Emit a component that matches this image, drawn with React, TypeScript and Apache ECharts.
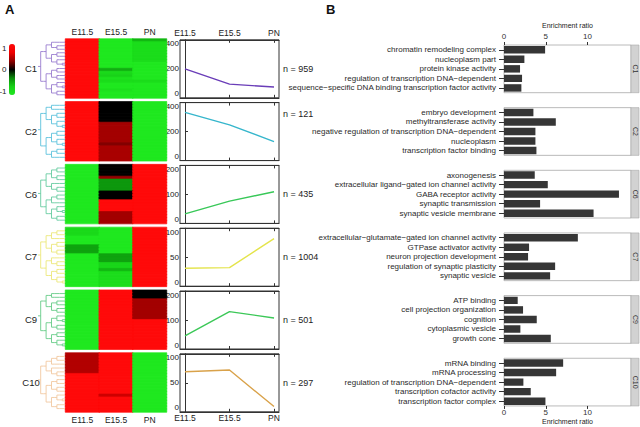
import React, { useEffect, useRef } from 'react';
import * as echarts from 'echarts';

// ---------------- data ----------------
const STAGES = ['E11.5', 'E15.5', 'PN'];
const CLUSTERS = ['C1', 'C2', 'C6', 'C7', 'C9', 'C10'];
const CLUSTER_SIZES = [959, 121, 435, 1004, 501, 297];
const COLORBAR_TICKS = [1, 0, -1];

// mean expression profiles (E11.5, E15.5, PN)
const PROFILE_C1 = [200, 94, 74];
const PROFILE_C2 = [333, 246, 131];
const PROFILE_C6 = [33, 77, 109];
const PROFILE_C7 = [31, 32, 82];
const PROFILE_C9 = [45, 129, 107];
const PROFILE_C10 = [69, 72, 9];
const PROFILE_MAX = [400, 400, 200, 100, 200, 100];

// heatmap rows: [E11.5, E15.5, PN] scaled expression
const HEAT_C1 = [
  [1, -1, -0.55], [1, -1, -0.85], [1, -1, -0.85], [1, -1, -0.85], [1, -1, -0.85],
  [1, -1, -0.85], [1, -1, -0.85], [1, -1, -0.85], [1, -1, -1], [1, -1, -1],
  [1, -0.5, -1], [1, -0.8, -1], [1, -0.7, -1], [1, -0.9, -1], [1, -0.85, -0.85],
  [1, -1, -1], [1, -1, -1], [1, -0.9, -1], [1, -1, -1], [1, -1, -1],
];
const HEAT_C2 = [
  [1, 0, -1], [1, 0, -1], [1, 0, -1], [1, 0, -1], [1, 0, -1],
  [1, 0, -1], [1, 0, -1], [1, 0.4, -1], [1, 0.4, -1], [1, 0.4, -1],
  [1, 0.4, -1], [1, 0.4, -1], [1, 0.4, -1], [1, 0.4, -1], [1, 0.3, -1],
  [1, 0.42, -1], [1, 0.42, -1], [1, 0.42, -1], [1, 0.42, -1], [1, 0.42, -1],
];
const HEAT_C6 = [
  [-1, 0, 1], [-1, 0, 1], [-1, 0, 1], [-1, 0, 1], [-1, 0.35, 1],
  [-1, -0.4, 1], [-1, -0.4, 1], [-1, -0.4, 1], [-1, -0.4, 1], [-1, 0, 1],
  [-1, 0, 1], [-1, 0, 1], [-1, 1, 1], [-1, 1, 1], [-1, 1, 1],
  [-1, 1, 1], [-1, 0.4, 1], [-1, 0.4, 1], [-1, 0.4, 1], [-1, 0.4, 1],
];
const HEAT_C7 = [
  [-0.8, -1, 1], [-0.8, -1, 1], [-0.8, -1, 1], [-1, -1, 1], [-1, -1, 1],
  [-1, -1, 1], [-0.45, -1, 1], [-0.45, -1, 1], [-0.45, -1, 1], [-1, -0.45, 1],
  [-1, -0.45, 1], [-1, -0.45, 1], [-1, -0.75, 1], [-1, -0.75, 1], [-1, -0.55, 1],
  [-1, -0.85, 1], [-1, -0.85, 1], [-1, -0.85, 1], [-1, -0.85, 1], [-1, -0.85, 1],
];
const HEAT_C9 = [
  [-1, 1, 0], [-1, 1, 0], [-1, 1, 0], [-1, 1, 0.4], [-1, 1, 0.4],
  [-1, 1, 0.4], [-1, 1, 0.4], [-1, 1, 0.4], [-1, 1, 0.4], [-1, 1, 0.4],
  [-1, 1, 1], [-1, 1, 1], [-1, 1, 1], [-1, 1, 1], [-1, 1, 1],
  [-1, 1, 1], [-1, 1, 1], [-1, 1, 1], [-1, 1, 1], [-1, 1, 1],
];
const HEAT_C10 = [
  [0.45, 1, -1], [0.45, 1, -1], [0.45, 1, -1], [0.45, 1, -1], [0.45, 1, -1],
  [0.45, 1, -1], [0.45, 1, -1], [1, 1, -1], [1, 1, -1], [1, 1, -1],
  [1, 1, -1], [1, 1, -1], [1, 1, -1], [1, 1, -1], [1, 0.55, -1],
  [1, 1, -1], [1, 1, -1], [1, 1, -1], [1, 1, -1], [1, 1, -1],
];

// dendrogram topologies (0 = leaf)
const DENDRO_C1 = [[[0, [0, 0]], [[0, 0], [0, [0, 0]]]], [[[0, 0], [0, 0]], [[0, [0, 0]], [0, 0]]]];
const DENDRO_C2 = [[[0, 0], [[0, 0], [0, [0, 0]]]], [[[0, 0], [0, [0, 0]]], [[0, 0], 0]]];
const DENDRO_C6 = [[[[0, 0], [0, 0]], [0, [0, 0]]], [[[0, 0], 0], [[0, [0, 0]], [0, 0]]]];
const DENDRO_C7 = [[[[0, 0], 0], [[0, 0], [0, 0]]], [[0, [0, 0]], [[0, 0], [0, [0, 0]]]]];
const DENDRO_C9 = [[[0, 0], [[0, 0], [0, 0]]], [[[0, [0, 0]], [0, 0]], [[0, 0], [0, [0, 0]]]]];
const DENDRO_C10 = [[[[0, 0], 0], [0, [0, 0]]], [[[0, 0], [0, 0]], [[0, [0, 0]], [0, 0]]]];

// GO enrichment
const TERMS_C1 = ['chromatin remodeling complex', 'nucleoplasm part', 'protein kinase activity', 'regulation of transcription DNA\u2212dependent', 'sequence\u2212specific DNA binding transcription factor activity'];
const RATIO_C1 = [4.92, 2.44, 1.92, 2.16, 2.08];
const TERMS_C2 = ['embryo development', 'methyltransferase activity', 'negative regulation of transcription DNA\u2212dependent', 'nucleoplasm', 'transcription factor binding'];
const RATIO_C2 = [3.52, 6.2, 3.76, 3.76, 3.88];
const TERMS_C6 = ['axonogenesis', 'extracellular ligand\u2212gated ion channel activity', 'GABA receptor activity', 'synaptic transmission', 'synaptic vesicle membrane'];
const RATIO_C6 = [3.68, 5.24, 13.76, 4.32, 10.72];
const TERMS_C7 = ['extracellular\u2212glutamate\u2212gated ion channel activity', 'GTPase activator activity', 'neuron projection development', 'regulation of synaptic plasticity', 'synaptic vesicle'];
const RATIO_C7 = [8.84, 3.0, 2.88, 6.12, 5.52];
const TERMS_C9 = ['ATP binding', 'cell projection organization', 'cognition', 'cytoplasmic vesicle', 'growth cone'];
const RATIO_C9 = [1.64, 2.28, 3.92, 1.96, 5.6];
const TERMS_C10 = ['mRNA binding', 'mRNA processing', 'regulation of transcription DNA\u2212dependent', 'transcription cofactor activity', 'transcription factor complex'];
const RATIO_C10 = [7.08, 6.24, 2.32, 3.2, 4.96];
const ENRICH_TICKS = [0, 5, 10];

// ---------------- styling ----------------
const FONT = 'Liberation Sans, Arial, Helvetica, sans-serif';
const HEAT_COLORS = ['#1fe81f', '#17d017', '#0a8a0a', '#000000', '#900000', '#f00000', '#ff0a0a'];
const LINE_COLORS = ['#6a3db8', '#36b6cc', '#38c858', '#e4e44c', '#3cc858', '#d9a24a'];
const DENDRO_COLORS = ['#9a7ed0', '#5cc2dc', '#66cca0', '#ece87a', '#66cc88', '#f2c8a0'];

const PROFILES = [PROFILE_C1, PROFILE_C2, PROFILE_C6, PROFILE_C7, PROFILE_C9, PROFILE_C10];
const HEATS = [HEAT_C1, HEAT_C2, HEAT_C6, HEAT_C7, HEAT_C9, HEAT_C10];
const DENDROS: any[] = [DENDRO_C1, DENDRO_C2, DENDRO_C6, DENDRO_C7, DENDRO_C9, DENDRO_C10];
const TERMS = [TERMS_C1, TERMS_C2, TERMS_C6, TERMS_C7, TERMS_C9, TERMS_C10];
const RATIOS = [RATIO_C1, RATIO_C2, RATIO_C6, RATIO_C7, RATIO_C9, RATIO_C10];

// layout
const ROW_TOP0 = 39;
const ROW_STEP = 62.8;
const HEAT_LEFT = 65.5;
const HEAT_W = 101;
const HEAT_H = 59;
const LINE_LEFT = 180;
const LINE_W = 99;
const LINE_H = 58;
const BAR_TOP0 = 45;
const BAR_STEP = 62.65;
const BAR_LEFT = 504;
const BAR_W = 127;
const BAR_H = 47.7;
const N_LABEL_DY = [29, 11, 28.5, 28.5, 28.5, 29];
const CBAR_TOP = 44;
const CBAR_H = 51;

function hexToRgb(h: string) {
  return [parseInt(h.slice(1, 3), 16), parseInt(h.slice(3, 5), 16), parseInt(h.slice(5, 7), 16)];
}
// same piecewise-linear mapping that the visualMap uses (for seam-hiding borders)
function colorFor(v: number) {
  const n = HEAT_COLORS.length - 1;
  const p = Math.max(0, Math.min(1, (v + 1) / 2)) * n;
  const k = Math.min(n - 1, Math.floor(p));
  const f = p - k;
  const a = hexToRgb(HEAT_COLORS[k]);
  const b = hexToRgb(HEAT_COLORS[k + 1]);
  const c = a.map((x, j) => Math.round(x + (b[j] - x) * f));
  return `rgb(${c[0]},${c[1]},${c[2]})`;
}

function depthOf(node: any): number {
  if (!Array.isArray(node)) return 0;
  return 1 + Math.max(...node.map(depthOf));
}
function buildTree(node: any, depth: number, maxDepth: number): any {
  if (Array.isArray(node)) {
    return { name: '', children: node.map((c) => buildTree(c, depth + 1, maxDepth)) };
  }
  if (depth < maxDepth) return { name: '', children: [buildTree(0, depth + 1, maxDepth)] };
  return { name: '' };
}

function buildOption() {
  const grid: any[] = [];
  const xAxis: any[] = [];
  const yAxis: any[] = [];
  const series: any[] = [];
  const graphic: any[] = [];
  const heatSeriesIdx: number[] = [];

  graphic.push({ type: 'text', x: 5, y: 3, style: { text: 'A', fontSize: 13, fontWeight: 'bold', fontFamily: FONT, fill: '#111' } });
  graphic.push({ type: 'text', x: 326, y: 3, style: { text: 'B', fontSize: 13, fontWeight: 'bold', fontFamily: FONT, fill: '#111' } });

  COLORBAR_TICKS.forEach((t) => {
    graphic.push({
      type: 'text', x: 6.5, y: CBAR_TOP + 4 + ((1 - t) / 2) * (CBAR_H - 8),
      style: { text: String(t), fontSize: 8, fontFamily: FONT, fill: '#222', align: 'right', verticalAlign: 'middle' },
    });
  });

  for (let i = 0; i < CLUSTERS.length; i++) {
    const heatTop = ROW_TOP0 + i * ROW_STEP;
    const rows = HEATS[i];

    // heatmap
    let gi = grid.length;
    grid.push({ left: HEAT_LEFT, top: heatTop, width: HEAT_W, height: HEAT_H, show: false, outerBoundsMode: 'none' });
    let xi = xAxis.length;
    xAxis.push({
      type: 'category', gridIndex: gi, data: STAGES, position: i === 0 ? 'top' : 'bottom',
      axisLine: { show: false }, axisTick: { show: false }, splitLine: { show: false },
      axisLabel: { show: i === 0 || i === CLUSTERS.length - 1, fontSize: 8.5, color: '#222', margin: 3 },
    });
    let yi = yAxis.length;
    yAxis.push({ type: 'category', gridIndex: gi, data: rows.map((_, r) => String(r)), inverse: true, show: false });
    const heatData: any[] = [];
    rows.forEach((row, r) =>
      row.forEach((v, c) => heatData.push({ value: [c, r, v], itemStyle: { borderColor: colorFor(v), borderWidth: 0.7 } })),
    );
    heatSeriesIdx.push(series.length);
    series.push({ type: 'heatmap', xAxisIndex: xi, yAxisIndex: yi, data: heatData, silent: true, emphasis: { disabled: true }, progressive: 0 });

    // dendrogram
    const maxD = depthOf(DENDROS[i]);
    series.push({
      type: 'tree', data: [buildTree(DENDROS[i], 0, maxD)], left: 38, top: heatTop + 1.5, width: 27, height: HEAT_H - 3,
      layout: 'orthogonal', orient: 'LR', edgeShape: 'polyline', symbol: 'none', symbolSize: 0,
      expandAndCollapse: false, initialTreeDepth: -1, roam: false, silent: true,
      label: { show: false }, leaves: { label: { show: false } },
      lineStyle: { color: DENDRO_COLORS[i], width: 0.9, curveness: 0 }, emphasis: { disabled: true },
    });

    graphic.push({
      type: 'text', x: 31, y: heatTop + HEAT_H / 2,
      style: { text: CLUSTERS[i], fontSize: 9.5, fontFamily: FONT, fill: '#222', align: 'center', verticalAlign: 'middle' },
    });

    // profile line plot
    const lineTop = heatTop + 0.8;
    gi = grid.length;
    grid.push({ left: LINE_LEFT, top: lineTop, width: LINE_W, height: LINE_H, show: true, borderColor: '#333', borderWidth: 1, outerBoundsMode: 'none' });
    const stageIdx = STAGES.map((_, k) => k);
    const xBottom = xAxis.length;
    xAxis.push({
      type: 'value', gridIndex: gi, min: -0.112, max: 2.112, position: 'bottom',
      axisLine: { show: true, lineStyle: { color: '#333' } },
      axisTick: { show: true, inside: true, length: 3, customValues: stageIdx, lineStyle: { color: '#333' } },
      axisLabel: { show: i === CLUSTERS.length - 1, customValues: stageIdx, formatter: (v: number) => STAGES[Math.round(v)] ?? '', fontSize: 8.5, color: '#222', margin: 2 },
      splitLine: { show: false },
    });
    xAxis.push({
      type: 'value', gridIndex: gi, min: -0.112, max: 2.112, position: 'top',
      axisLine: { show: true, lineStyle: { color: '#333' } },
      axisTick: { show: true, inside: true, length: 3, customValues: stageIdx, lineStyle: { color: '#333' } },
      axisLabel: { show: i === 0, customValues: stageIdx, formatter: (v: number) => STAGES[Math.round(v)] ?? '', fontSize: 8.5, color: '#222', margin: 2 },
      splitLine: { show: false },
    });
    yi = yAxis.length;
    yAxis.push({
      type: 'value', gridIndex: gi, min: 0, max: PROFILE_MAX[i], interval: PROFILE_MAX[i] / 2,
      axisLine: { show: true, lineStyle: { color: '#333' } },
      axisTick: { show: true, inside: true, length: 3, lineStyle: { color: '#333' } },
      axisLabel: { fontSize: 8, color: '#222', margin: 1, verticalAlignMinLabel: 'bottom', verticalAlignMaxLabel: 'top' },
      splitLine: { show: false },
    });
    series.push({
      type: 'line', xAxisIndex: xBottom, yAxisIndex: yi, data: PROFILES[i].map((v, k) => [k, v]),
      symbol: 'none', lineStyle: { color: LINE_COLORS[i], width: 1.4 }, silent: true,
    });
    graphic.push({
      type: 'text', x: 283, y: lineTop + N_LABEL_DY[i],
      style: { text: 'n = ' + CLUSTER_SIZES[i], fontSize: 9, fontFamily: FONT, fill: '#222', verticalAlign: 'middle' },
    });

    // enrichment bars
    const barTop = BAR_TOP0 + i * BAR_STEP;
    gi = grid.length;
    grid.push({ left: BAR_LEFT, top: barTop, width: BAR_W, height: BAR_H, show: true, borderColor: '#a8a8a8', borderWidth: 0.8, outerBoundsMode: 'none' });
    const first = i === 0;
    const last = i === CLUSTERS.length - 1;
    xi = xAxis.length;
    xAxis.push({
      type: 'value', gridIndex: gi, min: 0, max: 15.2, interval: 5, position: first ? 'top' : 'bottom',
      name: first || last ? 'Enrichment ratio' : '', nameLocation: 'middle', nameGap: first ? 16 : 12.5,
      nameTextStyle: { fontSize: 7, color: '#222', fontFamily: FONT },
      axisLine: { show: false },
      axisTick: { show: first || last, length: 3, customValues: ENRICH_TICKS, lineStyle: { color: '#333' } },
      axisLabel: { show: first || last, customValues: ENRICH_TICKS, fontSize: 8, color: '#333', margin: first ? 5 : 3, formatter: (v: number) => (v > 12 ? '' : String(v)) },
      splitLine: { show: false },
    });
    yi = yAxis.length;
    yAxis.push({
      type: 'category', gridIndex: gi, data: TERMS[i], inverse: true,
      axisLine: { show: false },
      axisTick: { show: true, length: 5, alignWithLabel: true, lineStyle: { color: '#333' } },
      axisLabel: { fontSize: 8, color: '#2a2a2a', margin: 8, interval: 0 },
      splitLine: { show: false },
    });
    series.push({
      type: 'bar', xAxisIndex: xi, yAxisIndex: yi, data: RATIOS[i], barCategoryGap: '22%',
      itemStyle: { color: '#363636' }, silent: true,
    });
    graphic.push({
      type: 'rect', shape: { x: BAR_LEFT + BAR_W, y: barTop, width: 8, height: BAR_H },
      style: { fill: '#d2d2d2', stroke: '#a8a8a8', lineWidth: 0.6 }, silent: true,
    });
    graphic.push({
      type: 'text', x: BAR_LEFT + BAR_W + 4, y: barTop + BAR_H / 2, rotation: -Math.PI / 2,
      style: { text: CLUSTERS[i], fontSize: 7, fontFamily: FONT, fill: '#333', align: 'center', verticalAlign: 'middle' },
    });
  }

  return {
    animation: false,
    backgroundColor: '#ffffff',
    textStyle: { fontFamily: FONT },
    grid, xAxis, yAxis, series, graphic,
    visualMap: {
      type: 'continuous', min: -1, max: 1, seriesIndex: heatSeriesIdx, calculable: false,
      show: true, left: 9, top: CBAR_TOP, itemWidth: 6, itemHeight: CBAR_H, padding: 0, orient: 'vertical',
      inRange: { color: HEAT_COLORS }, hoverLink: false,
    },
  };
}

export default function App() {
  const ref = useRef<HTMLDivElement>(null);
  useEffect(() => {
    const chart = echarts.init(ref.current!, null, { renderer: 'svg' });
    chart.setOption(buildOption() as any);
    return () => chart.dispose();
  }, []);
  return <div ref={ref} style={{ position: 'fixed', left: 0, top: 0, width: 640, height: 427, background: '#fff' }} />;
}
